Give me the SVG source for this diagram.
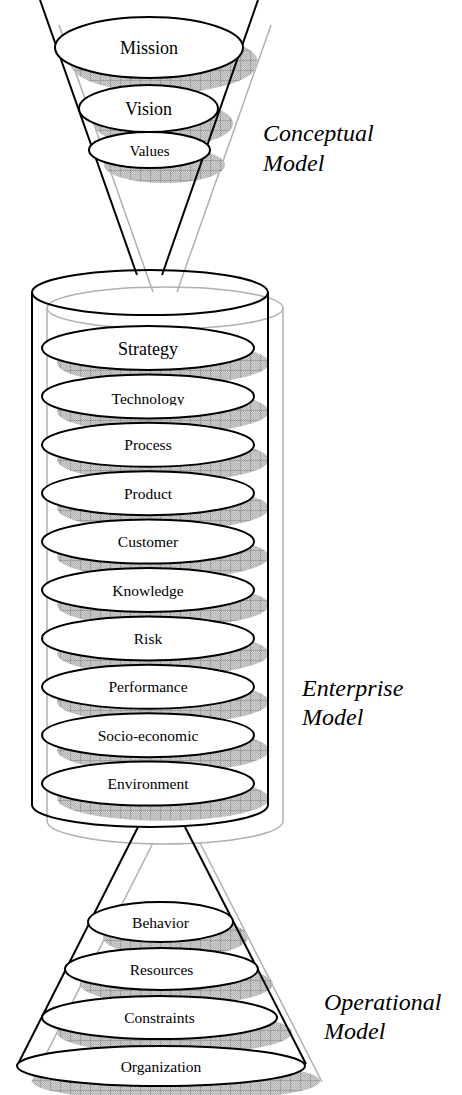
<svg xmlns="http://www.w3.org/2000/svg" width="462" height="1095" viewBox="0 0 462 1095">
  <defs>
    <!-- screened drop-shadow fill: dithered gray with a 10px grid -->
    <pattern id="dither" width="2" height="2" patternUnits="userSpaceOnUse">
      <rect width="2" height="2" fill="#cfcfcf"/>
      <rect width="1" height="1" fill="#b4b4b4"/>
      <rect x="1" y="1" width="1" height="1" fill="#b4b4b4"/>
    </pattern>
    <pattern id="screen" width="10" height="10" patternUnits="userSpaceOnUse">
      <rect width="10" height="10" fill="url(#dither)"/>
      <path d="M0 0.5H10M0.5 0V10" stroke="#989898" stroke-width="0.8"/>
    </pattern>
    <clipPath id="clipTech">
      <rect x="0" y="0" width="462" height="405.5"/>
    </clipPath>
  </defs>
  <style>
    .shadow{fill:url(#screen)}
    .ghost{fill:none;stroke:#b0b0b0;stroke-width:1.5}
    .edge{fill:none;stroke:#000;stroke-width:2}
    .node ellipse{fill:#fff;stroke:#000;stroke-width:2}
    .node text{font-family:"Liberation Serif","Times New Roman",serif;font-size:15.5px;text-anchor:middle;fill:#000}
    .node text.big{font-size:18px}
    .node text.mid{font-size:15px}
    .label{font-family:"Liberation Serif","Times New Roman",serif;font-style:italic;font-size:24px;fill:#000}
  </style>

  <!-- offset ghost outlines (shadow of the three solids) -->
  <g id="ghost-outlines" class="ghost">
    <line x1="59" y1="25" x2="153" y2="292"/>
    <line x1="271" y1="25" x2="177" y2="292"/>
    <ellipse cx="165" cy="308" rx="118" ry="21"/>
    <line x1="47" y1="308" x2="47" y2="821"/>
    <line x1="283" y1="308" x2="283" y2="821"/>
    <path d="M47 821A118 23 0 0 0 283 821"/>
    <line x1="153" y1="843" x2="32" y2="1082"/>
    <line x1="200" y1="843" x2="322" y2="1082"/>
  </g>

  <!-- drop shadows of the discs -->
  <g id="disc-shadows" class="shadow">
    <ellipse cx="164" cy="62.5" rx="94" ry="30.5"/>
    <ellipse cx="163.5" cy="123.5" rx="69.5" ry="23.5"/>
    <ellipse cx="164.5" cy="165" rx="60.5" ry="18"/>
    <ellipse cx="163" cy="363" rx="106" ry="22"/>
    <ellipse cx="163" cy="411.4" rx="106" ry="22"/>
    <ellipse cx="163" cy="459.8" rx="106" ry="22"/>
    <ellipse cx="163" cy="508.2" rx="106" ry="22"/>
    <ellipse cx="163" cy="556.6" rx="106" ry="22"/>
    <ellipse cx="163" cy="605" rx="106" ry="22"/>
    <ellipse cx="163" cy="653.4" rx="106" ry="22"/>
    <ellipse cx="163" cy="701.8" rx="106" ry="22"/>
    <ellipse cx="163" cy="750.2" rx="106" ry="22"/>
    <ellipse cx="163" cy="798.6" rx="106" ry="22"/>
    <ellipse cx="175.5" cy="937" rx="72.5" ry="20"/>
    <ellipse cx="176.5" cy="984" rx="96.5" ry="21"/>
    <ellipse cx="174.5" cy="1032.5" rx="117.5" ry="21.5"/>
    <ellipse cx="176" cy="1081" rx="144" ry="20"/>
  </g>

  <!-- solid outlines: funnel, cylinder, cone -->
  <g id="connectors" class="edge">
    <line x1="40" y1="0" x2="137" y2="275"/>
    <line x1="258" y1="0" x2="162" y2="275"/>
    <ellipse cx="150" cy="292.5" rx="118" ry="22.5"/>
    <line x1="32" y1="292.5" x2="32" y2="805"/>
    <line x1="268" y1="292.5" x2="268" y2="805"/>
    <path d="M32 805A118 22 0 0 0 268 805"/>
    <line x1="138" y1="827" x2="17" y2="1066"/>
    <line x1="185" y1="827" x2="306" y2="1064"/>
  </g>

  <!-- conceptual model -->
  <g id="mission" class="node"><ellipse cx="149" cy="47.5" rx="94" ry="30.5"/><text class="big" x="149" y="54">Mission</text></g>
  <g id="vision" class="node"><ellipse cx="148.5" cy="108.5" rx="69.5" ry="23.5"/><text class="big" x="148.5" y="115">Vision</text></g>
  <g id="values" class="node"><ellipse cx="149.5" cy="150" rx="60.5" ry="18"/><text class="mid" x="149.5" y="156">Values</text></g>

  <!-- enterprise model -->
  <g id="strategy" class="node"><ellipse cx="148" cy="348" rx="106" ry="22"/><text class="big" x="148" y="355">Strategy</text></g>
  <g id="technology" class="node"><ellipse cx="148" cy="396.4" rx="106" ry="22"/><text x="148" y="404" clip-path="url(#clipTech)">Technology</text></g>
  <g id="process" class="node"><ellipse cx="148" cy="444.8" rx="106" ry="22"/><text x="148" y="450.3">Process</text></g>
  <g id="product" class="node"><ellipse cx="148" cy="493.2" rx="106" ry="22"/><text x="148" y="498.7">Product</text></g>
  <g id="customer" class="node"><ellipse cx="148" cy="541.6" rx="106" ry="22"/><text x="148" y="547.1">Customer</text></g>
  <g id="knowledge" class="node"><ellipse cx="148" cy="590" rx="106" ry="22"/><text x="148" y="595.5">Knowledge</text></g>
  <g id="risk" class="node"><ellipse cx="148" cy="638.4" rx="106" ry="22"/><text x="148" y="643.9">Risk</text></g>
  <g id="performance" class="node"><ellipse cx="148" cy="686.8" rx="106" ry="22"/><text x="148" y="692.3">Performance</text></g>
  <g id="socio-economic" class="node"><ellipse cx="148" cy="735.2" rx="106" ry="22"/><text x="148" y="740.7">Socio-economic</text></g>
  <g id="environment" class="node"><ellipse cx="148" cy="783.6" rx="106" ry="22"/><text x="148" y="789.1">Environment</text></g>

  <!-- operational model -->
  <g id="behavior" class="node"><ellipse cx="160.5" cy="922" rx="72.5" ry="20"/><text x="160.5" y="927.5">Behavior</text></g>
  <g id="resources" class="node"><ellipse cx="161.5" cy="969" rx="96.5" ry="21"/><text x="161.5" y="974.5">Resources</text></g>
  <g id="constraints" class="node"><ellipse cx="159.5" cy="1017.5" rx="117.5" ry="21.5"/><text x="159.5" y="1023">Constraints</text></g>
  <g id="organization" class="node"><ellipse cx="161" cy="1066" rx="144" ry="20"/><text x="161" y="1071.5">Organization</text></g>

  <!-- layer captions -->
  <g id="captions" class="label">
    <text x="263" y="141">Conceptual</text>
    <text x="263" y="171">Model</text>
    <text x="302" y="696">Enterprise</text>
    <text x="302" y="725">Model</text>
    <text x="324" y="1010">Operational</text>
    <text x="324" y="1039">Model</text>
  </g>
</svg>
